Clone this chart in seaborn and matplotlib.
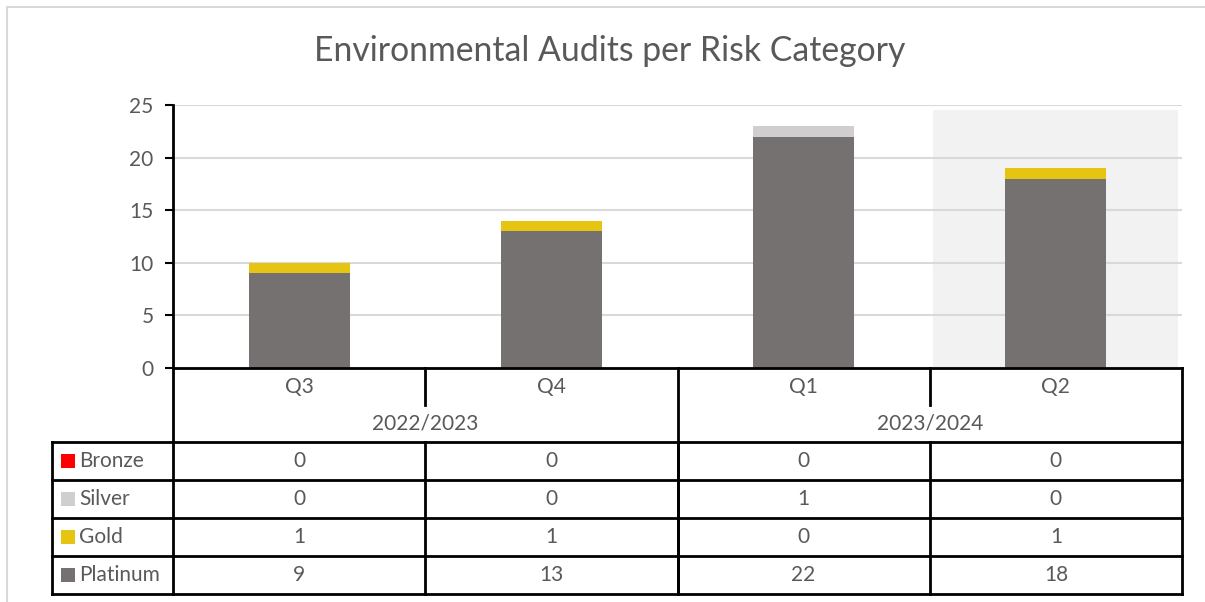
import matplotlib
matplotlib.use('Agg')
import matplotlib.pyplot as plt
import seaborn as sns
import numpy as np
import pandas as pd
from matplotlib.patches import Rectangle

# Veriler
quarters = ['Q3', 'Q4', 'Q1', 'Q2']
years = ['2022/2023', '2023/2024']
series_names = ['Bronze', 'Silver', 'Gold', 'Platinum']
bronze = [0, 0, 0, 0]
silver = [0, 0, 1, 0]
gold = [1, 1, 0, 1]
platinum = [9, 13, 22, 18]

colors = {'Bronze': '#ff0000', 'Silver': '#d0cece', 'Gold': '#e6c512', 'Platinum': '#767171'}
text_color = '#595959'
fs = 15

sns.set_theme(style='white')
plt.rcParams['font.family'] = ['Lato', 'DejaVu Sans']

W, H = 1205, 602
fig = plt.figure(figsize=(W / 100, H / 100), dpi=100)

# pixel layout
x0, x1 = 173, 1182
y_top, y_zero = 105, 368
ax = fig.add_axes([x0 / W, 1 - y_zero / H, (x1 - x0) / W, (y_zero - y_top) / H])

df = pd.DataFrame({'quarter': quarters, 'Bronze': bronze, 'Silver': silver,
                   'Gold': gold, 'Platinum': platinum})

# highlight for current quarter
ax.add_patch(Rectangle((2.513, 0), 0.971, 24.5, color='#f2f2f2', zorder=0, lw=0))

# stacked bars: draw cumulative totals from the top series down
stack = ['Platinum', 'Gold', 'Silver', 'Bronze']
for i in range(len(stack), 0, -1):
    layer = stack[:i]
    total = df[layer].sum(axis=1)
    sns.barplot(x=df['quarter'], y=total, color=colors[layer[-1]], width=0.4,
                saturation=1, linewidth=0, ax=ax, zorder=3)

ax.set_xlim(-0.5, 3.5)
ax.set_ylim(0, 25)
ax.set_yticks([0, 5, 10, 15, 20, 25])
ax.yaxis.grid(True, color='#d9d9d9', lw=1.5, zorder=1)
ax.set_axisbelow(False)
for line in ax.get_ygridlines():
    line.set_zorder(1)
ax.set_xlabel('')
ax.set_ylabel('')
ax.set_xticks([])
for s in ['top', 'right']:
    ax.spines[s].set_visible(False)
ax.spines['left'].set_color('black')
ax.spines['left'].set_linewidth(2)
ax.spines['bottom'].set_color('black')
ax.spines['bottom'].set_linewidth(2)
ax.spines['left'].set_zorder(5)
ax.spines['bottom'].set_zorder(5)
ax.tick_params(axis='y', left=True, length=6, width=1.5, color='black',
               labelsize=fs, labelcolor=text_color, pad=8)

# table overlay in pixel coordinates
tab = fig.add_axes([0, 0, 1, 1])
tab.set_xlim(0, W)
tab.set_ylim(H, 0)
tab.axis('off')
tab.patch.set_alpha(0)

col_w = (x1 - x0) / len(quarters)
row_q, row_y, row0, row_h = 368, 405, 442, 38
legend_x = 52
lw = 2

def hline(y, xa, xb):
    tab.plot([xa, xb], [y, y], color='black', lw=lw, solid_capstyle='projecting')

def vline(x, ya, yb):
    tab.plot([x, x], [ya, yb], color='black', lw=lw, solid_capstyle='projecting')

# quarter + year header
for i, q in enumerate(quarters):
    tab.text(x0 + col_w * (i + 0.5), (row_q + row_y) / 2, q, ha='center', va='center',
             fontsize=fs, color=text_color)
for j, yr in enumerate(years):
    tab.text(x0 + col_w * (2 * j + 1), (row_y + row0) / 2, yr, ha='center', va='center',
             fontsize=fs, color=text_color)
vline(x0, row_q, row0 + 4 * row_h)
vline(x1, row_q, row0 + 4 * row_h)
vline(x0 + col_w, row_q, row_y)
vline(x0 + 3 * col_w, row_q, row_y)
vline(x0 + 2 * col_w, row_q, row0 + 4 * row_h)

# data rows
rows = {'Bronze': bronze, 'Silver': silver, 'Gold': gold, 'Platinum': platinum}
for r, name in enumerate(series_names):
    yc = row0 + row_h * (r + 0.5)
    tab.add_patch(Rectangle((legend_x + 9, yc - 7), 14, 14, color=colors[name], lw=0))
    tab.text(legend_x + 27, yc, name, ha='left', va='center', fontsize=fs, color=text_color)
    for i, v in enumerate(rows[name]):
        tab.text(x0 + col_w * (i + 0.5), yc, str(v), ha='center', va='center',
                 fontsize=fs, color=text_color)
for r in range(5):
    hline(row0 + r * row_h, legend_x, x1)
vline(legend_x, row0, row0 + 4 * row_h)
for i in range(1, 4):
    vline(x0 + i * col_w, row0, row0 + 4 * row_h)

# title and outer chart border
tab.text(610, 51, 'Environmental Audits per Risk Category', ha='center',
         va='center', fontsize=24.3, color=text_color)
tab.plot([7, W], [7, 7], color='#d9d9d9', lw=1.5)
tab.plot([7, 7], [7, H], color='#d9d9d9', lw=1.5)

fig.savefig('out.png', dpi=100)
